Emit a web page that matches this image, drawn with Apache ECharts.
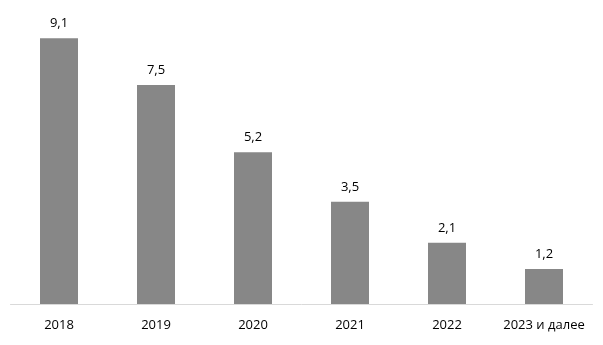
<!DOCTYPE html>
<html><head><meta charset="utf-8">
<script src="https://cdn.jsdelivr.net/npm/echarts@6/dist/echarts.min.js"></script>
<style>html,body{margin:0;padding:0;background:#fff}#c{width:603px;height:345px}</style>
</head><body><div id="c"></div>
<script>
const categories = ['2018','2019','2020','2021','2022','2023 и далее'];
const values = [9.1, 7.5, 5.2, 3.5, 2.1, 1.2];
const chart = echarts.init(document.getElementById('c'), null, {renderer:'canvas'});
chart.setOption({
  animation:false,
  grid:{left:10.5, right:10.5, top:12, bottom:41},
  xAxis:{type:'category', data:categories,
    axisLine:{lineStyle:{color:'#d9d9d9'}}, axisTick:{show:false},
    axisLabel:{interval:0, color:'#000', fontSize:13, fontFamily:'Open Sans', margin:15}},
  yAxis:{type:'value', min:0, max:10, show:false, splitLine:{show:false}},
  series:[{type:'bar', data:values, barWidth:38, itemStyle:{color:'#878787'},
    label:{show:true, position:'top', distance:8, color:'#000', fontSize:13, fontFamily:'Open Sans',
      formatter:p=>String(p.value).replace('.',',')}}]
});
</script></body></html>
